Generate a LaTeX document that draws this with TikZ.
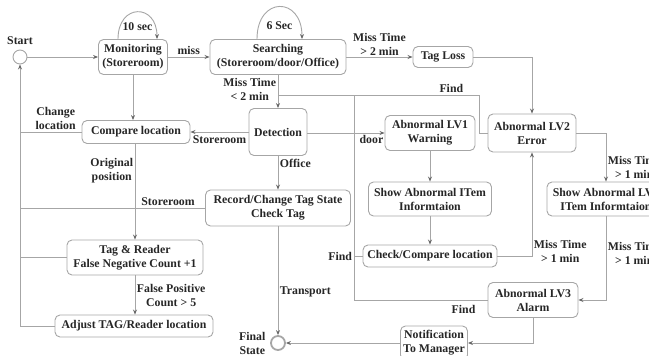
\documentclass[tikz,border=0pt]{standalone}
\usepackage{fontspec}
\setmainfont{Liberation Serif}
\usetikzlibrary{arrows.meta,positioning}

\begin{document}
\begin{tikzpicture}[x=1pt, y=-1pt,
    >={Stealth[length=5pt,width=4pt,color=black!60]},
    box/.style={draw=gray!70, line width=0.9pt, rounded corners=5pt, align=center,
        inner sep=1pt, font=\bfseries\fontsize{11.8}{14}\selectfont, text=black!85},
    lbl/.style={align=center, inner sep=1.5pt,
        font=\bfseries\fontsize{11.8}{14}\selectfont, text=black!85},
    dot/.style={circle, draw=gray!70, line width=0.9pt, minimum size=14pt, inner sep=0pt},
    link/.style={draw=gray!70, line width=0.9pt}]
    \useasboundingbox (0,0) rectangle (649,356);
    \clip (0,0) rectangle (649,356);

    % states
    \node[dot, label={[lbl, label distance=3pt]above:Start}] (start) at (20,57) {};
    \node[dot, line width=1.8pt, label={[lbl, label distance=3pt]left:Final\\State}] (final) at (278,343) {};
    \node[box, minimum width=69pt, minimum height=35pt] (mon) at (133,57) {Monitoring\\(Storeroom)};
    \node[box, minimum width=136pt, minimum height=35pt] (srch) at (278,57) {Searching\\(Storeroom/door/Office)};
    \node[box, minimum width=60pt, minimum height=21pt] (loss) at (443,57) {Tag Loss};
    \node[box, minimum width=88pt, minimum height=38pt] (lv2) at (532,133) {Abnormal LV2\\Error};
    \node[box, minimum width=58pt, minimum height=47pt] (det) at (278,132) {Detection};
    \node[box, minimum width=108pt, minimum height=23pt] (cmp) at (136,132) {Compare location};
    \node[box, minimum width=90pt, minimum height=35pt] (lv1) at (430,133) {Abnormal LV1\\Warning};
    \node[box, minimum width=145pt, minimum height=36pt] (rec) at (278,208) {Record/Change Tag State\\Check Tag};
    \node[box, minimum width=123pt, minimum height=34pt] (show1) at (430,199) {Show Abnormal ITem\\Informtaion};
    \node[box, minimum width=134pt, minimum height=22pt] (chk) at (430,256) {Check/Compare location};
    \node[box, minimum width=118pt, minimum height=34pt] (show2) at (606,199) {Show Abnormal LV2\\ITem Informtaion};
    \node[box, minimum width=136pt, minimum height=35pt] (tag) at (135,257.5) {Tag \& Reader\\False Negative Count +1};
    \node[box, minimum width=158pt, minimum height=22pt] (adj) at (134,326) {Adjust TAG/Reader location};
    \node[box, minimum width=90pt, minimum height=35pt] (lv3) at (533,300) {Abnormal LV3\\Alarm};
    \node[box, minimum width=67pt, minimum height=34pt] (note) at (434,343) {Notification\\To Manager};

    \coordinate (findj) at (278,95);
    \coordinate (vj) at (354,95);

    % self loops
    \draw[link,->] ([xshift=-15pt]mon.north) .. controls +(0,-36) and +(0,-36) .. ([xshift=24pt]mon.north)
        node[lbl, midway, below=9pt] {10 sec};
    \draw[link,->] ([xshift=-21pt]srch.north) .. controls +(0,-43) and +(0,-43) .. ([xshift=24pt]srch.north)
        node[lbl, midway, below=13pt] {6 Sec};

    % top row
    \draw[link,->] (start) -- (mon);
    \draw[link,->] (mon) -- node[lbl, above] {miss} (srch);
    \draw[link,->] (srch) -- node[lbl, above] {Miss Time\\> 2 min} (loss);
    \draw[link,->] (loss) -| (lv2);
    \draw[link,->] (srch) -- node[lbl, left, pos=0.45] {Miss Time\\< 2 min} (det);

    % back to detection
    \draw[link] (lv2.west) -- ++(-8,0) |- node[lbl, above, pos=0.57] {Find} (findj);
    \draw[link] (lv3) -| node[lbl, below=3pt, pos=0.09] {Find} (vj);
    \draw[link] (chk) -- (chk -| vj) node[lbl, left] {Find};

    % detection branches
    \draw[link,->] (det.west |- cmp) -- node[lbl, below=2pt] {Storeroom} (cmp);
    \draw[link,->] (det.east |- lv1) -- node[lbl, below, pos=0.83] {door} (lv1);
    \draw[link,->] (det) -- node[lbl, right, pos=0.22] {Office} (rec);

    % left column
    \draw[link,->] (mon.south) -- (mon.south |- cmp.north);
    \draw[link] (cmp) -- node[lbl, above, pos=0.42] {Change\\location} (cmp -| start);
    \draw[link,->] (cmp.south -| tag) -- node[lbl, left, pos=0.28] {Original\\position} (tag);
    \draw[link] (rec) -- node[lbl, above, pos=0.2] {Storeroom} (rec -| start);
    \draw[link] (tag) -- (tag -| start);
    \draw[link,->] (tag.south) -- node[lbl, right] {False Positive\\Count > 5} (tag.south |- adj.north);
    \draw[link,->] (adj) -| (start);
    \draw[link,->] (rec) -- node[lbl, right, pos=0.6] {Transport} (final);

    % abnormal chain
    \draw[link,->] (lv1) -- (show1);
    \draw[link,->] (show1) -- (chk);
    \draw[link,->] (chk) -| node[lbl, right, pos=0.52] {Miss Time\\> 1 min} (lv2);
    \draw[link,->] (lv2) -| node[lbl, right, pos=0.85] {Miss Time\\> 1 min} (show2);
    \draw[link,->] (show2) |- node[lbl, right, pos=0.22] {Miss Time\\> 1 min} (lv3);
    \draw[link,->] (lv3) |- (note);
    \draw[link,->] (note) -- (final);
\end{tikzpicture}
\end{document}
